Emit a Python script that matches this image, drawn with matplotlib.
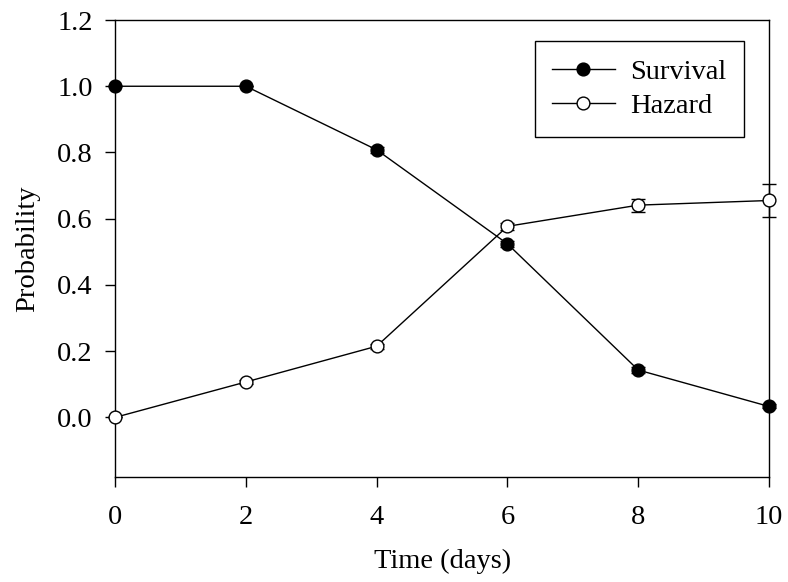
import numpy as np
import matplotlib.pyplot as plt
from matplotlib.lines import Line2D

plotpar = {'font.family': 'Liberation Serif',
           'font.size': 20.5,
           'axes.linewidth': 1.0}
plt.rcParams.update(plotpar)

days = [0, 2, 4, 6, 8, 10]
survival = [1.0, 1.0, 0.808, 0.524, 0.143, 0.033]
survival_err = [0.0, 0.0, 0.01, 0.01, 0.008, 0.006]
hazard = [0.0, 0.107, 0.215, 0.577, 0.641, 0.655]
hazard_err = [0.0, 0.006, 0.008, 0.01, 0.02, 0.049]

fig = plt.figure(figsize=(7.88, 5.82), dpi=100)
ax = fig.add_axes([0.146, 0.1804, 0.83, 0.7852])

ms = 9.2
ax.errorbar(days, survival, yerr=survival_err, color='black', lw=1,
            marker='o', ms=ms, mfc='black', mec='black', capsize=5,
            elinewidth=1, capthick=1, clip_on=False, zorder=3)
ax.errorbar(days, hazard, yerr=hazard_err, color='black', lw=1,
            marker='o', ms=ms, mfc='white', mec='black', mew=1,
            capsize=5, elinewidth=1, capthick=1, clip_on=False, zorder=3)

ax.set_xlim(0, 10)
ax.set_ylim(-0.18, 1.2)
ax.set_xticks([0, 2, 4, 6, 8, 10])
ax.set_yticks([0.0, 0.2, 0.4, 0.6, 0.8, 1.0, 1.2])
ax.set_yticklabels(['0.0', '0.2', '0.4', '0.6', '0.8', '1.0', '1.2'])
ax.tick_params(direction='out', length=7, width=1, pad=9)
ax.tick_params(axis='x', pad=13)
ax.set_xlabel('Time (days)', labelpad=14)
ax.set_ylabel('Probability', labelpad=12)

handles = [Line2D([], [], color='black', lw=1, marker='o', ms=ms,
                  mfc='black', mec='black'),
           Line2D([], [], color='black', lw=1, marker='o', ms=ms,
                  mfc='white', mec='black')]
leg = ax.legend(handles, ['Survival', 'Hazard'], loc='upper right',
                bbox_to_anchor=(0.962, 0.954), fancybox=False,
                framealpha=1, edgecolor='black', handlelength=2.2,
                borderpad=0.62, labelspacing=0.3, handletextpad=0.55,
                borderaxespad=0)
leg.get_frame().set_linewidth(1)

fig.savefig('out.png', dpi=100)
